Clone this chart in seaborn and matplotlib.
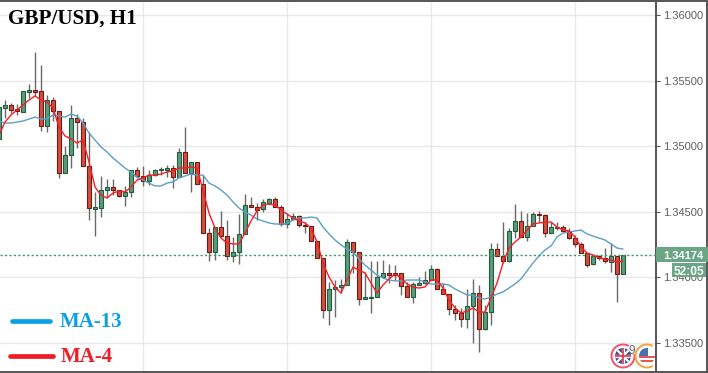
import numpy as np
import pandas as pd
import seaborn as sns
import matplotlib
matplotlib.use('Agg')
import matplotlib.pyplot as plt
from matplotlib.lines import Line2D
from matplotlib.patches import Arc, Circle, Rectangle
from matplotlib.transforms import Affine2D

# prices in points (1e-5)
opens = [135055,135291,135314,135283,135261,135413,135428,135421,135154,135352,135268,134796,134933,135215,135184,134849,134521,134529,134666,134689,134666,
         134620,134651,134819,134773,134735,134780,134819,134819,134834,134765,134956,134796,134880,134712,134338,134194,134384,134315,134163,134194,
         134331,134552,134536,134521,134567,134597,134536,134407,134445,134468,134399,134392,134277,134148,133752,133912,133927,133942,134270,134194,
         133835,133843,133851,134003,134034,134034,134034,133934,133851,133942,133957,133980,134064,133912,133873,133759,133729,133683,133782,133881,
         133607,133736,134216,134163,134125,134354,134430,134308,134392,134483,134475,134338,134376,134384,134354,134300,134255,134186,134102,134163,
         134148,134117,134163,134026]
closes = [135299,135314,135276,135268,135421,135428,135413,135154,135352,135268,134796,134933,135215,135184,134849,134529,134536,134666,134689,134666,134620,
          134651,134819,134773,134735,134780,134819,134826,134834,134765,134956,134796,134880,134712,134338,134194,134384,134315,134163,134194,134331,
          134552,134536,134514,134575,134597,134536,134407,134445,134468,134399,134392,134277,134148,133752,133912,133927,133942,134270,134194,133835,
          133851,133851,134003,134034,134018,134018,133934,133851,133950,133957,133980,134064,133912,133873,133759,133729,133683,133782,133881,133607,
          133736,134216,134163,134125,134354,134430,134308,134392,134483,134475,134338,134384,134384,134354,134300,134255,134186,134094,134163,134148,
          134125,134163,134026,134174]
highs = [135299,135352,135329,135322,135421,135474,135718,135619,135390,135375,135268,135001,135314,135245,135215,135108,134651,134773,134750,134750,134666,
         134697,134819,134841,134849,134819,134826,134841,134857,134857,134986,135146,134880,134880,134780,134376,134384,134506,134437,134308,134483,
         134636,134613,134567,134597,134605,134613,134552,134491,134491,134475,134422,134392,134277,134148,133965,133980,133988,134293,134270,134194,
         134041,134125,134125,134132,134102,134094,134034,133965,133965,134003,134049,134094,134072,133957,133873,133790,133767,133912,133988,133942,
         133790,134262,134262,134422,134376,134559,134506,134491,134498,134506,134483,134422,134422,134399,134376,134323,134270,134186,134163,134171,
         134224,134262,134163,134174]
lows = [135055,135215,135253,135238,135261,135367,135383,135116,135108,135192,134758,134796,134834,134986,134849,134437,134315,134460,134605,134628,134613,
        134544,134613,134758,134697,134704,134773,134780,134765,134681,134765,134796,134651,134712,134338,134125,134132,134308,134132,134117,134102,
        134331,134536,134437,134498,134567,134536,134392,134376,134437,134384,134338,134277,134148,133691,133637,133698,133881,133942,134034,133790,
        133835,133729,133851,134003,133957,133980,133866,133851,133805,133942,133950,133980,133912,133873,133713,133675,133622,133614,133500,133431,
        133599,133637,134163,134110,134117,134300,134308,134277,134392,134422,134308,134338,134361,134346,134293,134232,134186,134079,134094,134132,
        134110,134041,133812,134026]
ma4 = [135085,135184,135238,135276,135314,135352,135383,135352,135337,135291,135146,135078,135055,135024,135047,134880,134689,134628,134605,134643,134658,
       134651,134689,134742,134758,134780,134780,134788,134803,134811,134834,134834,134841,134834,134666,134491,134376,134300,134262,134255,134255,
       134338,134430,134506,134552,134559,134552,134514,134483,134453,134430,134415,134376,134270,134110,134003,133927,133881,133980,134079,134056,
       134034,133957,133881,133942,133988,134026,133995,133950,133927,133919,133927,133980,133980,133919,133828,133767,133729,133744,133767,133736,
       133736,133843,133957,134110,134224,134270,134308,134361,134407,134415,134422,134422,134384,134361,134354,134308,134232,134186,134171,134148,
       134140,134132,134117,134125]
ma13 = [135192,135177,135177,135184,135192,135207,135222,135207,135207,135238,135230,135222,135245,135230,135177,135101,135047,134994,134956,134910,134872,
        134834,134803,134765,134742,134719,134697,134697,134719,134727,134758,134773,134788,134780,134780,134719,134697,134666,134628,134575,134529,
        134498,134475,134445,134430,134415,134407,134407,134407,134437,134453,134453,134460,134453,134384,134331,134285,134247,134216,134194,134140,
        134094,134056,134018,133995,133980,133973,133973,133980,133980,133980,133965,133950,133950,133950,133942,133912,133889,133866,133866,133843,
        133835,133851,133873,133889,133919,133950,133988,134049,134110,134163,134209,134239,134308,134338,134346,134354,134361,134331,134315,134300,
        134285,134255,134224,134216]
price_ticks = [1.335, 1.34, 1.345, 1.35, 1.355, 1.36]
grid_candles = [24, 48, 72, 96]
last_price = 1.34174
countdown = '52:05'

df = pd.DataFrame({'open': opens, 'close': closes, 'high': highs, 'low': lows, 'ma4': ma4, 'ma13': ma13}) / 1e5
df['n'] = df.index
up = df[df.close >= df.open]
down = df[df.close < df.open]

sns.set_theme(style='whitegrid')
plt.rcParams['font.family'] = ['Liberation Sans', 'DejaVu Sans']

fig = plt.figure(figsize=(7.08, 3.73), dpi=100, facecolor='white')
ax = fig.add_axes([0, 2 / 373, 656 / 708, 370 / 373])
# top-left pixel coordinates for the overlay stuff
px = Affine2D().scale(1, -1).translate(0, 373)

ax.vlines(df.n, df.low, df.high, color='#6a6a6a', lw=1, zorder=2)
for part, fill, edge in [(up, '#5c9c7c', '#215c3e'), (down, '#d14f3c', '#6f1a14')]:
    ax.bar(part.n, (part.close - part.open).abs(), bottom=part[['open', 'close']].min(axis=1),
           width=0.72, color=fill, edgecolor=edge, lw=0.8, zorder=3)

sns.lineplot(data=df, x='n', y='ma13', color='#5b9fc6', lw=1.0, errorbar=None, ax=ax, zorder=4)
sns.lineplot(data=df, x='n', y='ma4', color='#fb1c23', lw=1.0, errorbar=None, ax=ax, zorder=5)
ax.axhline(last_price, color='#3d9a6a', lw=1, ls=(0, (1.6, 1.6)), zorder=4)

ax.set_xlim(1 / 6, 109.5)
ax.set_ylim(1.332866, 1.361067)
ax.set_xticks(grid_candles)
ax.set_yticks(price_ticks)
ax.set_xlabel('')
ax.set_ylabel('')
ax.grid(True, color='#e8e8e8', lw=1.0)
ax.set_axisbelow(True)
ax.tick_params(axis='x', length=0, labelbottom=False)
ax.yaxis.tick_right()
ax.set_yticklabels(['%.5f' % p for p in price_ticks])
ax.tick_params(axis='y', length=3, width=0.8, color='#555555', labelcolor='#5f5f5f',
               labelsize=8, pad=2.2, right=True)
for side in ['top', 'bottom', 'left']:
    ax.spines[side].set_visible(False)
ax.spines['right'].set_color('#555555')
ax.spines['right'].set_linewidth(1.4)

# outer frame
for xs, ys in [([0, 708], [1, 1]), ([0, 708], [372, 372]), ([707, 707], [0, 373])]:
    fig.add_artist(Line2D(xs, ys, transform=px, color='#555555', lw=1.4))

# price and countdown boxes
fig.add_artist(Rectangle((656, 247), 52, 15, transform=px, color='#6aa585', lw=0, zorder=5))
fig.add_artist(Rectangle((672, 263), 34, 14, transform=px, color='#6aa585', lw=0, zorder=5))
fig.text(683.5, 259, '%.5f' % last_price, transform=px, color='white', fontsize=8,
         fontweight='bold', ha='center', zorder=6)
fig.text(689, 275, countdown, transform=px, color='white', fontsize=8.6,
         fontweight='bold', ha='center', zorder=6)

# title and hand drawn legend
serif = ['Liberation Serif', 'DejaVu Serif']
fig.text(8, 24, 'GBP/USD, H1', transform=px, family=serif, fontsize=15.2, fontweight='bold', color='black')
fig.add_artist(Line2D([12, 50], [321, 321], transform=px, color='#0aa0e6', lw=3.4, solid_capstyle='round'))
fig.add_artist(Line2D([10, 53], [356, 356], transform=px, color='#f01c26', lw=3.4, solid_capstyle='round'))
fig.text(60, 327, 'MA-13', transform=px, family=serif, fontsize=15, fontweight='bold', color='#0aa0e6')
fig.text(61, 362, 'MA-4', transform=px, family=serif, fontsize=15, fontweight='bold', color='#f01c26')

# news icons bottom right
uk = Circle((623, 356), 8, transform=px, fc='#39468c', ec='none', zorder=7)
ax.add_patch(uk)
for xs, ys, col, w in [([615, 631], [348, 364], 'white', 1.6), ([615, 631], [364, 348], 'white', 1.6),
                       ([623, 623], [348, 364], 'white', 2.4), ([615, 631], [356, 356], 'white', 2.4),
                       ([623, 623], [348, 364], '#d8344a', 1.2), ([615, 631], [356, 356], '#d8344a', 1.2)]:
    ax.add_line(Line2D(xs, ys, transform=px, color=col, lw=w, zorder=8, clip_path=uk))
ax.add_patch(Arc((623, 356), 23, 23, transform=px, theta1=-10, theta2=300, color='#f4516c', lw=1.4, zorder=8))
us = Circle((647, 356), 8, transform=px, fc='white', ec='none', zorder=7)
ax.add_patch(us)
for y0 in [356, 360]:
    ax.add_patch(Rectangle((639, y0), 16, 2, transform=px, fc='#e4584f', ec='none', zorder=8, clip_path=us))
ax.add_patch(Rectangle((639, 348), 9, 8, transform=px, fc='#4a6fb0', ec='none', zorder=9, clip_path=us))
ax.add_patch(Arc((647, 356), 23, 23, transform=px, theta1=60, theta2=300, color='#f5a33a', lw=1.4, zorder=8))
fig.text(628.5, 354, '9', transform=px, color='#666666', fontsize=8.5, zorder=9)

fig.savefig('out.png', dpi=100)
